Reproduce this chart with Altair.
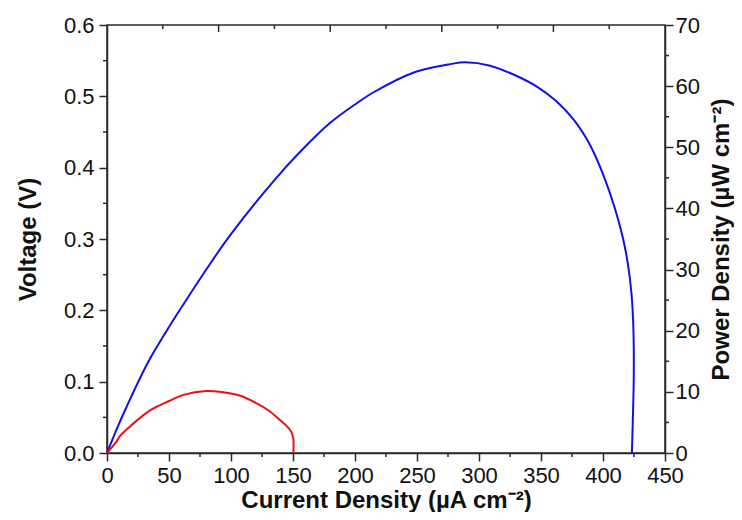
import altair as alt
import pandas as pd

# ---- data ----
blue_j = [0, 8, 15, 33, 50, 60, 84, 100, 134, 156, 180, 200, 215, 247, 277, 289, 309, 330,
          346, 362, 376, 387, 394, 400, 409, 416, 420, 423, 424.5, 424.8, 424, 423.3]
blue_p = [0, 4.0, 7.2, 14.8, 20.6, 23.8, 31.2, 35.8, 44.4, 49.3, 54.0, 57.0, 59.0, 62.2, 63.6, 63.9, 63.35, 61.7,
          60.0, 57.6, 54.6, 51.3, 48.5, 45.6, 40.4, 35.2, 31.0, 26.0, 20.4, 12.3, 5.0, 0]

red_j = [0, 7.8, 10.5, 20, 35, 50, 61.5, 80, 95, 107, 120, 130, 140, 145, 148.5, 150.2, 150.3]
red_p = [0, 1.9, 2.8, 4.6, 7.0, 8.5, 9.5, 10.15, 9.9, 9.4, 8.2, 7.0, 5.3, 4.4, 3.5, 2.4, 0]

x_major = [0, 50, 100, 150, 200, 250, 300, 350, 400, 450]
x_minor = [25, 75, 125, 175, 225, 275, 325, 375, 425]
volt_major = [0.0, 0.1, 0.2, 0.3, 0.4, 0.5, 0.6]
volt_minor = [0.05, 0.15, 0.25, 0.35, 0.45, 0.55]
pow_major = [0, 10, 20, 30, 40, 50, 60, 70]
pow_minor = [5, 15, 25, 35, 45, 55, 65]
top_major = [90, 180, 270, 360]
top_minor = [45, 135, 225, 315, 405]

x_title = "Current Density (µA cm⁻²)"
yl_title = "Voltage (V)"
yr_title = "Power Density (µW cm⁻²)"

rows = []
for i, (j, p) in enumerate(zip(blue_j, blue_p)):
    rows.append({"j": j, "p": p, "s": "blue", "i": i})
for i, (j, p) in enumerate(zip(red_j, red_p)):
    rows.append({"j": j, "p": p, "s": "red", "i": i})
curves = pd.DataFrame(rows)

AX = "#2a2a2a"
FONT = "Liberation Sans"
W, H = 558, 428

xaxis = alt.Axis(
    values=x_major, title=x_title, format="d", labelFlush=False,
    tickSize=8, labelPadding=4, titleBaseline="alphabetic", titleX=W / 2, titleY=54,
    titleAnchor="middle", titleAlign="center",
)
xscale = alt.Scale(domain=[0, 450], nice=False, zero=False)
vscale = alt.Scale(domain=[0, 0.6], nice=False)
pscale = alt.Scale(domain=[0, 70], nice=False)

left = alt.Chart(pd.DataFrame({"v": volt_major})).mark_point(opacity=0).encode(
    x=alt.value(0),
    y=alt.Y("v:Q", scale=vscale,
            axis=alt.Axis(orient="left", values=volt_major, title=yl_title, format=".1f",
                          labelFlush=False, tickSize=8, labelPadding=5,
                          titleAngle=270, titleBaseline="alphabetic",
                          titleX=-72, titleY=H / 2, titleAlign="center")),
)
left_minor = alt.Chart(pd.DataFrame({"v": volt_minor})).mark_rule(color=AX, strokeWidth=1.5).encode(
    y=alt.Y("v:Q", scale=vscale, axis=None), x=alt.value(-4), x2=alt.value(0))

lines = alt.Chart(curves).mark_line(strokeWidth=2, interpolate="catmull-rom").encode(
    x=alt.X("j:Q", scale=xscale, axis=xaxis),
    y=alt.Y("p:Q", scale=pscale,
            axis=alt.Axis(orient="right", values=pow_major, title=yr_title, format="d",
                          labelFlush=False, tickSize=8, labelPadding=2,
                          titleAngle=270, titleBaseline="alphabetic",
                          titleX=63, titleY=H / 2, titleAlign="center")),
    color=alt.Color("s:N", scale=alt.Scale(domain=["blue", "red"], range=["#1010e8", "#ee1010"]), legend=None),
    order=alt.Order("i:Q"),
    detail="s:N",
)
right_minor = alt.Chart(pd.DataFrame({"p": pow_minor})).mark_rule(color=AX, strokeWidth=1.5).encode(
    y=alt.Y("p:Q", scale=pscale, axis=None), x=alt.value(W), x2=alt.value(W + 4))

bottom_minor = alt.Chart(pd.DataFrame({"t": x_minor})).mark_rule(color=AX, strokeWidth=1.5).encode(
    x=alt.X("t:Q", scale=xscale, axis=xaxis), y=alt.value(H), y2=alt.value(H + 4))
top_maj = alt.Chart(pd.DataFrame({"t": top_major})).mark_rule(color=AX, strokeWidth=1.5).encode(
    x=alt.X("t:Q", scale=xscale, axis=xaxis), y=alt.value(0), y2=alt.value(7))
top_min = alt.Chart(pd.DataFrame({"t": top_minor})).mark_rule(color=AX, strokeWidth=1.5).encode(
    x=alt.X("t:Q", scale=xscale, axis=xaxis), y=alt.value(0), y2=alt.value(4))

chart = alt.layer(left, left_minor, lines, right_minor, bottom_minor, top_maj, top_min).resolve_scale(
    y="independent"
).properties(
    width=W, height=H,
    autosize=alt.AutoSizeParams(type="none"),
    padding={"left": 99, "top": 17, "right": 69, "bottom": 59},
).configure_view(stroke=AX, strokeWidth=1.5).configure_axis(
    grid=False, domainColor=AX, domainWidth=1.5, tickColor=AX, tickWidth=1.5,
    labelFont=FONT, labelFontSize=22, labelColor="#111",
    titleFont=FONT, titleFontSize=24, titleFontWeight="bold", titleColor="#111",
)

chart.save("out.html", embed_options={"renderer": "svg", "actions": False})
